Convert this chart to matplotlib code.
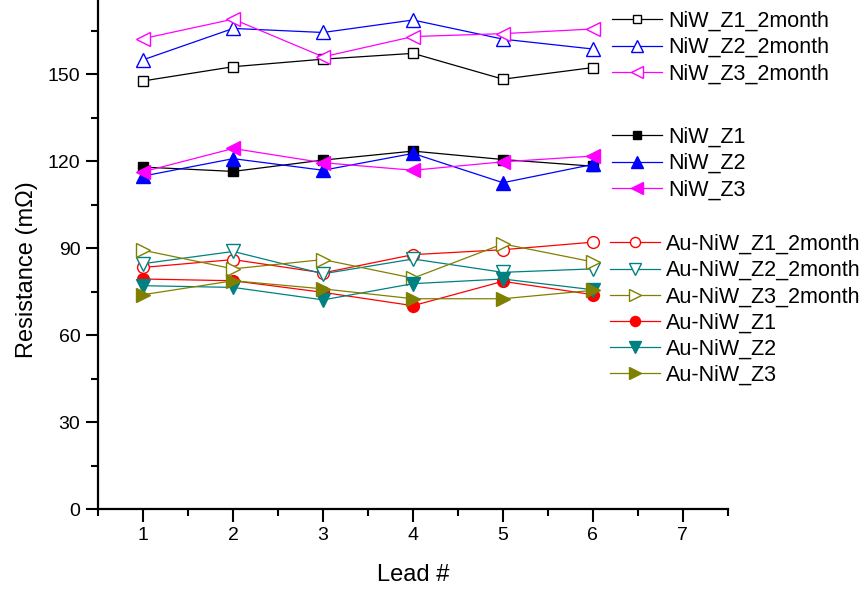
import matplotlib
matplotlib.use("Agg")
import matplotlib.pyplot as plt
from matplotlib.ticker import MultipleLocator

plt.rcParams['font.family'] = ['Liberation Sans', 'DejaVu Sans']

lead = [1, 2, 3, 4, 5, 6]

# NiW after 2 months
niw_z1_2m = [147.7, 152.6, 155.2, 157.2, 148.3, 152.3]
niw_z2_2m = [155.0, 165.8, 164.4, 168.7, 162.1, 158.7]
niw_z3_2m = [162.3, 169.0, 156.0, 163.0, 164.0, 165.6]
# NiW fresh
niw_z1 = [118.0, 116.5, 120.4, 123.5, 120.6, 118.3]
niw_z2 = [114.9, 120.9, 116.9, 122.7, 112.6, 118.9]
niw_z3 = [116.4, 124.4, 119.5, 116.9, 119.8, 121.8]
# Au-NiW after 2 months
auniw_z1_2m = [83.4, 86.1, 81.5, 87.8, 89.5, 92.1]
auniw_z2_2m = [84.7, 88.9, 81.2, 86.3, 81.7, 82.9]
auniw_z3_2m = [89.3, 82.9, 86.1, 79.7, 91.5, 85.3]
# Au-NiW fresh
auniw_z1 = [79.4, 78.8, 74.8, 70.2, 78.6, 74.0]
auniw_z2 = [77.1, 76.5, 72.2, 77.8, 79.4, 75.7]
auniw_z3 = [74.0, 78.8, 76.0, 72.6, 72.6, 75.5]

fig = plt.figure(figsize=(8.68, 5.92), dpi=100)
ax = fig.add_axes([0.1133, 0.1397, 0.8384 - 0.1133, 0.8603])

def pl(y, c, m, label, filled, ms=8):
    fc = c if filled else 'white'
    line, = ax.plot(lead, y, color=c, marker=m, ms=ms, mfc=fc, mec=c,
                    mew=1.0, lw=0.9, label=label)
    return line

g1 = [pl(niw_z1_2m, 'black', 's', 'NiW_Z1_2month', False, 7.5),
      pl(niw_z2_2m, 'blue', '^', 'NiW_Z2_2month', False, 9.5),
      pl(niw_z3_2m, 'magenta', '<', 'NiW_Z3_2month', False, 9.5)]
g2 = [pl(niw_z1, 'black', 's', 'NiW_Z1', True, 7.5),
      pl(niw_z2, 'blue', '^', 'NiW_Z2', True, 9.5),
      pl(niw_z3, 'magenta', '<', 'NiW_Z3', True, 9.5)]
g3 = [pl(auniw_z1_2m, 'red', 'o', 'Au-NiW_Z1_2month', False, 8.5),
      pl(auniw_z2_2m, 'teal', 'v', 'Au-NiW_Z2_2month', False, 9.5),
      pl(auniw_z3_2m, 'olive', '>', 'Au-NiW_Z3_2month', False, 9.5),
      pl(auniw_z1, 'red', 'o', 'Au-NiW_Z1', True, 8.5),
      pl(auniw_z2, 'teal', 'v', 'Au-NiW_Z2', True, 9.5),
      pl(auniw_z3, 'olive', '>', 'Au-NiW_Z3', True, 9.5)]

ax.set_xlim(0.5, 7.5)
ax.set_ylim(0, 175.6)
ax.xaxis.set_major_locator(MultipleLocator(1))
ax.xaxis.set_minor_locator(MultipleLocator(0.5))
ax.yaxis.set_major_locator(MultipleLocator(30))
ax.yaxis.set_minor_locator(MultipleLocator(15))
ax.tick_params(which='major', direction='out', length=9, width=1.5, labelsize=14, pad=4)
ax.tick_params(which='minor', direction='out', length=5, width=1.5)
for s in ['top', 'right']:
    ax.spines[s].set_visible(False)
for s in ['left', 'bottom']:
    ax.spines[s].set_linewidth(1.6)

ax.set_xlabel('Lead #', fontsize=17)
ax.set_ylabel('Resistance (m\u03a9)', fontsize=17)
ax.xaxis.set_label_coords(0.5, -0.107)
ax.yaxis.set_label_coords(-0.096, 0.47)

legkw = dict(frameon=False, fontsize=15.5, handlelength=2.3, handletextpad=0.3,
             labelspacing=0.24, borderpad=0, borderaxespad=0, markerscale=0.85,
             loc='upper left')
H, W = 592.0, 868.0
l1 = fig.legend(handles=g1, bbox_to_anchor=(612 / W, 1 - 11 / H), **legkw)
l2 = fig.legend(handles=g2, bbox_to_anchor=(612 / W, 1 - 127 / H), **legkw)
l3 = fig.legend(handles=g3, bbox_to_anchor=(610 / W, 1 - 234 / H), **legkw)

fig.savefig('out.png', dpi=100)
